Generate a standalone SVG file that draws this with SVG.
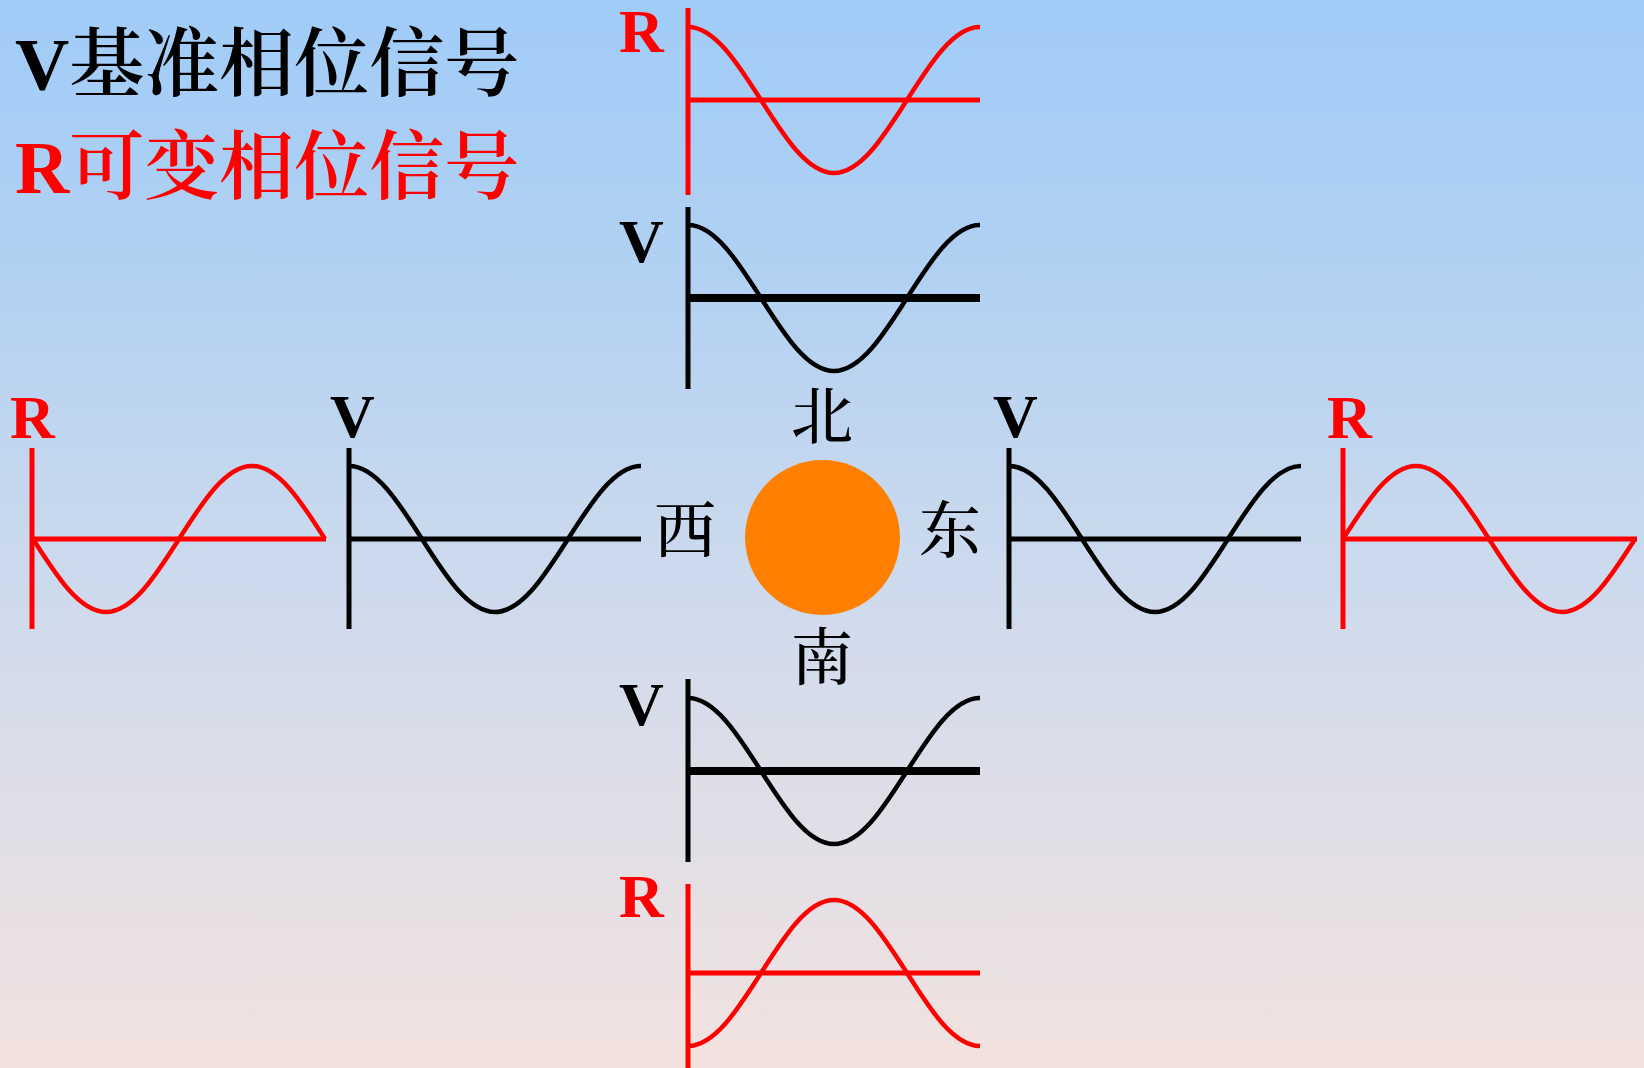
<svg xmlns="http://www.w3.org/2000/svg" xmlns:xlink="http://www.w3.org/1999/xlink" width="1644" height="1068" viewBox="0 0 1644 1068">
<style>
.lat{font-family:"Liberation Serif","Times New Roman",serif;font-weight:bold}
.cjk{font-family:"Noto Serif CJK SC","Liberation Serif","Noto Sans CJK SC",serif;font-weight:600}
.dir{font-family:"Noto Serif CJK SC","Noto Sans CJK SC",serif;font-size:62px;font-weight:500;text-anchor:middle;fill:#000}
.lbl{font-family:"Liberation Serif","Times New Roman",serif;font-weight:bold;font-size:62px}
.red{fill:#FF0000}
.blk{fill:#000000}
.ax{fill:none;stroke-width:5}
.axv{fill:none;stroke-width:8}
.wave{fill:none;stroke-width:4.5}
.r{stroke:#FF0000}
.k{stroke:#000000}
</style>
<defs>
<linearGradient id="bg" x1="0" y1="0" x2="0" y2="1">
<stop offset="0" stop-color="#A0CCF8"/>
<stop offset="0.26" stop-color="#B2D1F2"/>
<stop offset="0.5" stop-color="#C9D9EE"/>
<stop offset="0.74" stop-color="#DEDEE8"/>
<stop offset="1" stop-color="#F2E2DF"/>
</linearGradient>
<path id="cosw" d="M0,-73 C26.4,-73 49.2,-37.4 73,0 C96.8,37.4 119.6,73 146,73 C172.4,73 195.2,37.4 219,0 C242.8,-37.4 265.6,-73 292,-73"/>
<path id="nsinw" d="M0,0 C23.8,37.4 46.6,73 73,73 C99.4,73 122.2,37.4 146,0 C169.8,-37.4 192.6,-73 219,-73 C245.4,-73 268.2,-37.4 292,0"/>
</defs>
<rect x="0" y="0" width="1644" height="1068" fill="url(#bg)"/>

<g id="legend">
<text x="15" y="90" font-size="75"><tspan class="lat blk">V</tspan><tspan class="cjk blk">基准相位信号</tspan></text>
<text x="15" y="193" font-size="75"><tspan class="lat red">R</tspan><tspan class="cjk red">可变相位信号</tspan></text>
</g>

<g id="north-R">
<text class="lbl red" x="619" y="52">R</text>
<line class="ax r" x1="688" y1="8" x2="688" y2="195"/>
<line class="ax r" x1="688" y1="100" x2="980" y2="100"/>
<use xlink:href="#cosw" class="wave r" transform="translate(688,100)"/>
</g>

<g id="north-V">
<text class="lbl blk" x="619" y="262">V</text>
<line class="ax k" x1="688" y1="207" x2="688" y2="389"/>
<line class="axv k" x1="688" y1="298" x2="980" y2="298"/>
<use xlink:href="#cosw" class="wave k" transform="translate(688,298)"/>
</g>

<g id="west-R">
<text class="lbl red" x="10" y="438">R</text>
<line class="ax r" x1="32" y1="448" x2="32" y2="629"/>
<line class="ax r" x1="32" y1="539" x2="326" y2="539"/>
<use xlink:href="#nsinw" class="wave r" transform="translate(33,539)"/>
</g>

<g id="west-V">
<text class="lbl blk" x="330" y="437">V</text>
<line class="ax k" x1="349" y1="448" x2="349" y2="629"/>
<line class="ax k" x1="349" y1="539" x2="641" y2="539"/>
<use xlink:href="#cosw" class="wave k" transform="translate(349,539)"/>
</g>

<g id="east-V">
<text class="lbl blk" x="993" y="437">V</text>
<line class="ax k" x1="1009" y1="448" x2="1009" y2="629"/>
<line class="ax k" x1="1009" y1="539" x2="1301" y2="539"/>
<use xlink:href="#cosw" class="wave k" transform="translate(1009,539)"/>
</g>

<g id="east-R">
<text class="lbl red" x="1327" y="438">R</text>
<line class="ax r" x1="1343" y1="448" x2="1343" y2="629"/>
<line class="ax r" x1="1343" y1="539" x2="1637" y2="539"/>
<use xlink:href="#nsinw" class="wave r" transform="translate(1343,539) scale(1,-1)"/>
</g>

<g id="south-V">
<text class="lbl blk" x="619" y="725">V</text>
<line class="ax k" x1="688" y1="679" x2="688" y2="862"/>
<line class="axv k" x1="688" y1="771" x2="980" y2="771"/>
<use xlink:href="#cosw" class="wave k" transform="translate(688,771)"/>
</g>

<g id="south-R">
<text class="lbl red" x="619" y="917">R</text>
<line class="ax r" x1="688" y1="884" x2="688" y2="1068"/>
<line class="ax r" x1="688" y1="973" x2="980" y2="973"/>
<use xlink:href="#cosw" class="wave r" transform="translate(688,973) scale(1,-1)"/>
</g>

<g id="station">
<circle cx="822.5" cy="537.5" r="77.5" fill="#FF8000"/>
</g>

<g id="directions">
<text class="dir" x="822" y="439">北</text>
<text class="dir" x="685" y="553">西</text>
<text class="dir" x="950" y="553">东</text>
<text class="dir" x="822" y="680">南</text>
</g>

<g id="connectors"/>
</svg>
